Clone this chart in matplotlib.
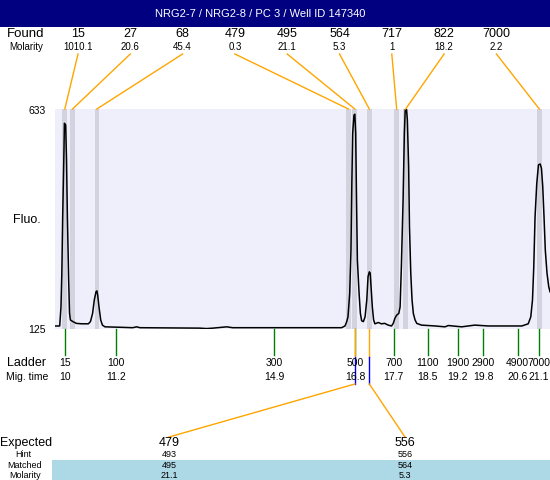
import matplotlib
matplotlib.use("Agg")
import matplotlib.pyplot as plt
from matplotlib.patches import Rectangle

plt.rcParams['font.family'] = ['Liberation Sans', 'DejaVu Sans']

title = "NRG2-7 / NRG2-8 / PC 3 / Well ID 147340"

# peaks found: size, molarity, migration time (s)
found_size = ["15", "27", "68", "479", "495", "564", "717", "822", "7000"]
found_molarity = ["1010.1", "20.6", "45.4", "0.3", "21.1", "5.3", "1", "18.2", "2.2"]
found_time = [10.0, 10.18, 10.75, 16.64, 16.79, 17.13, 17.77, 17.98, 21.11]

# ladder
ladder_size = ["15", "100", "300", "500", "700", "1100", "1900", "2900", "4900", "7000"]
ladder_time = [10, 11.2, 14.9, 16.8, 17.7, 18.5, 19.2, 19.8, 20.6, 21.1]

# expected / matched table
expected = ["479", "556"]
hint = ["493", "556"]
matched = ["495", "564"]
matched_molarity = ["21.1", "5.3"]
matched_time = [16.79, 17.13]

# electropherogram trace
trace_time = [9.77, 9.88, 9.91, 9.93, 9.95, 9.98, 9.99, 10.02, 10.04, 10.06,
              10.09, 10.11, 10.13, 10.19, 10.27, 10.39, 10.55, 10.60, 10.65, 10.69,
              10.73, 10.75, 10.77, 10.80, 10.84, 10.88, 10.94, 11.29, 11.59, 11.68,
              11.76, 13.16, 13.32, 13.47, 13.79, 13.93, 14.92,
              16.48, 16.56, 16.60, 16.63, 16.67, 16.70, 16.72, 16.74, 16.77, 16.79,
              16.81, 16.83, 16.85, 16.89, 16.92, 16.95, 16.99, 17.03, 17.07, 17.10,
              17.13, 17.15, 17.17, 17.20, 17.23, 17.26, 17.34, 17.41, 17.49, 17.57,
              17.65, 17.69, 17.73, 17.77, 17.82, 17.85, 17.88, 17.92, 17.95, 17.97,
              18.00, 18.02, 18.05, 18.07, 18.10, 18.13, 18.16, 18.20, 18.24, 18.35,
              18.67, 18.90, 18.98, 19.29, 19.60, 19.91, 20.38, 20.70, 20.85, 20.91,
              20.95, 20.98, 21.01, 21.05, 21.09, 21.13, 21.16, 21.19, 21.22, 21.25,
              21.29, 21.33, 21.36]
trace_fluo = [132, 132, 176, 254, 384, 538, 600, 596, 515, 384,
              238, 162, 146, 142, 138, 137, 137, 142, 161, 192,
              211, 213, 203, 176, 146, 134, 130, 129, 128, 130,
              128, 127, 126, 127, 130, 128, 128,
              128, 132, 142, 153, 207, 307, 461, 577, 619, 621,
              577, 423, 284, 207, 161, 144, 142, 153, 192, 246,
              257, 254, 223, 176, 146, 137, 140, 137, 138, 134,
              132, 138, 150, 157, 161, 176, 269, 423, 577, 631,
              632, 608, 500, 361, 254, 192, 161, 146, 138, 134,
              132, 130, 133, 130, 134, 132, 132, 132, 137, 153,
              192, 269, 384, 461, 504, 506, 496, 454, 384, 307,
              254, 223, 211]

W, H = 550, 480
fig = plt.figure(figsize=(W / 100, H / 100), dpi=100)
fig.patch.set_facecolor('white')

# plot area (pixels 55..550 x 109..329)
ax = fig.add_axes([55 / W, (H - 329) / H, 495 / W, 220 / H])
ax.set_facecolor('#EFEFFC')
ax.set_xlim(9.77, 21.36)
ax.set_ylim(125, 633)
for s in ax.spines.values():
    s.set_visible(False)
ax.set_xticks([])
ax.set_yticks([])
for t in found_time:
    ax.axvspan(t - 0.055, t + 0.055, color='#D3D3E0', lw=0, zorder=1)
ax.plot(trace_time, trace_fluo, color='black', lw=1.1, zorder=3)

# overlay in pixel coordinates for the annotation layout
ov = fig.add_axes([0, 0, 1, 1])
ov.set_xlim(0, W)
ov.set_ylim(H, 0)
ov.axis('off')


def tx(t):
    disp = ax.transData.transform((t, 125))
    return ov.transData.inverted().transform(disp)[0]


# title bar
ov.add_patch(Rectangle((0, 0), W, 27, color='#000080', lw=0))
ov.text(260, 14, title, color='white', fontsize=8, ha='center', va='center')

# found row
ov.text(26, 34, "Found", fontsize=9.5, ha='center', va='center')
ov.text(26, 47, "Molarity", fontsize=7, ha='center', va='center')
for i, (sz, mol, t) in enumerate(zip(found_size, found_molarity, found_time)):
    x = 78 + i * 52.3
    ov.text(x, 34, sz, fontsize=9, ha='center', va='center')
    ov.text(x, 47, mol, fontsize=7, ha='center', va='center')
    ov.plot([x, tx(t)], [54, 109], color='#FFA500', lw=1)

# y axis
ov.text(46, 111, "633", fontsize=7.5, ha='right', va='center')
ov.text(46, 330, "125", fontsize=7.5, ha='right', va='center')
ov.text(27, 220, "Fluo.", fontsize=9, ha='center', va='center')

# ladder
ov.text(27, 363, "Ladder", fontsize=9, ha='center', va='center')
ov.text(27, 377, "Mig. time", fontsize=7.5, ha='center', va='center')
for sz, t in zip(ladder_size, ladder_time):
    x = tx(t)
    ov.plot([x, x], [329, 355], color='#008000', lw=1)
    ov.text(x, 363, sz, fontsize=7.5, ha='center', va='center')
    ov.text(x, 377, f"{t:g}", fontsize=7.5, ha='center', va='center')

# expected table
ov.add_patch(Rectangle((52, 460), W - 52, 20, color='#ADD8E6', lw=0))
ov.text(26, 443, "Expected", fontsize=9, ha='center', va='center')
row_y = [454.5, 465.5, 475.5]
ov.text(23, row_y[0], "Hint", fontsize=6.5, ha='center', va='center')
ov.text(25, row_y[1], "Matched", fontsize=6.5, ha='center', va='center')
ov.text(25, row_y[2], "Molarity", fontsize=6.5, ha='center', va='center')
col_x = [169, 405]
for i in range(2):
    x = col_x[i]
    ov.text(x, 443, expected[i], fontsize=9, ha='center', va='center')
    ov.text(x, row_y[0], hint[i], fontsize=6.5, ha='center', va='center')
    ov.text(x, row_y[1], matched[i], fontsize=6.5, ha='center', va='center')
    ov.text(x, row_y[2], matched_molarity[i], fontsize=6.5, ha='center', va='center')
    mx = tx(matched_time[i])
    ov.plot([mx, mx], [329, 357], color='#FFA500', lw=1)
    ov.plot([mx, mx], [357, 384], color='#0000FF', lw=1)
    ov.plot([mx, x], [384, 437], color='#FFA500', lw=1)

fig.savefig('out.png', dpi=100)
